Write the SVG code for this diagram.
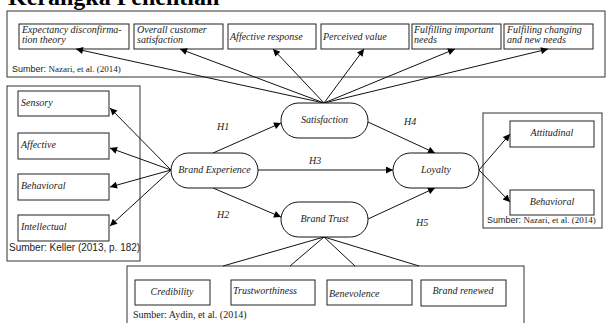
<svg xmlns="http://www.w3.org/2000/svg" width="608" height="323" viewBox="0 0 608 323">
<style>
.frame{fill:#fff;stroke:#333;stroke-width:1}
.box{fill:#fff;stroke:#222;stroke-width:1}
.pill{fill:#fff;stroke:#111;stroke-width:1}
.t{font-family:"Liberation Serif",serif;font-style:italic;font-size:10px;fill:#222}
.s{font-family:"Liberation Sans",sans-serif;font-size:10px;fill:#222}
.sr{font-family:"Liberation Serif",serif;font-size:10px;fill:#222}
.src{font-size:9px}
.c{stroke:#111;stroke-width:1;fill:none}
.a{marker-end:url(#ah)}
.title{font-family:"Liberation Serif",serif;font-weight:bold;font-size:24px;fill:#000}
</style>
<defs>
<marker id="ah" viewBox="0 0 10 10" refX="10" refY="5" markerWidth="9" markerHeight="7" markerUnits="userSpaceOnUse" orient="auto">
<path d="M0,0 L10,5 L0,10 z" fill="#000"/>
</marker>
</defs>
<rect width="608" height="323" fill="#fff"/>
<text class="title" x="8" y="5">Kerangka Penelitian</text>

<g id="satisfaction-group">
<rect class="frame" x="7" y="11" width="598" height="66"/>
<g id="n-edt"><rect class="box" x="19" y="24" width="110" height="25"/><text class="t" x="22" y="33">Expectancy disconfirma-</text><text class="t" x="22" y="43">tion theory</text></g>
<g id="n-ocs"><rect class="box" x="134" y="24" width="89" height="25"/><text class="t" x="137" y="33">Overall customer</text><text class="t" x="137" y="43">satisfaction</text></g>
<g id="n-ar"><rect class="box" x="228" y="24" width="88" height="25"/><text class="t" x="230" y="40">Affective response</text></g>
<g id="n-pv"><rect class="box" x="321" y="24" width="88" height="25"/><text class="t" x="323" y="40">Perceived value</text></g>
<g id="n-fin"><rect class="box" x="412" y="24" width="89" height="25"/><text class="t" x="414" y="33">Fulfilling important</text><text class="t" x="414" y="43">needs</text></g>
<g id="n-fcn"><rect class="box" x="504" y="24" width="89" height="25"/><text class="t" x="507" y="33">Fulfiling changing</text><text class="t" x="507" y="43">and new needs</text></g>
<text class="src" x="12" y="72"><tspan class="s src">Sumber: </tspan><tspan class="sr src">Nazari, et al. (2014)</tspan></text>
</g>

<g id="experience-group">
<rect class="frame" x="7" y="86" width="133" height="175"/>
<g id="n-sensory"><rect class="box" x="18" y="91" width="91" height="25"/><text class="t" x="21" y="106">Sensory</text></g>
<g id="n-affective"><rect class="box" x="18" y="133" width="91" height="26"/><text class="t" x="21" y="148">Affective</text></g>
<g id="n-behavioral1"><rect class="box" x="18" y="174" width="91" height="26"/><text class="t" x="21" y="189">Behavioral</text></g>
<g id="n-intellectual"><rect class="box" x="18" y="215" width="91" height="26"/><text class="t" x="21" y="230">Intellectual</text></g>
<text class="s" x="9" y="251">Sumber: Keller (2013, p. 182)</text>
</g>

<g id="loyalty-group">
<rect class="frame" x="483" y="113" width="119" height="115"/>
<g id="n-attitudinal"><rect class="box" x="510" y="121" width="84" height="26"/><text class="t" x="552" y="136" text-anchor="middle">Attitudinal</text></g>
<g id="n-behavioral2"><rect class="box" x="510" y="190" width="84" height="25"/><text class="t" x="552" y="205" text-anchor="middle">Behavioral</text></g>
<text class="src" x="487" y="223"><tspan class="s src">Sumber: </tspan><tspan class="sr src">Nazari, et al. (2014)</tspan></text>
</g>

<g id="trust-group">
<rect class="frame" x="127" y="266" width="397" height="62"/>
<g id="n-credibility"><rect class="box" x="135" y="280" width="75" height="25"/><text class="t" x="172" y="295" text-anchor="middle">Credibility</text></g>
<g id="n-trustworthiness"><rect class="box" x="231" y="280" width="84" height="25"/><text class="t" x="233" y="294">Trustworthiness</text></g>
<g id="n-benevolence"><rect class="box" x="327" y="280" width="85" height="25"/><text class="t" x="329" y="297">Benevolence</text></g>
<g id="n-renewed"><rect class="box" x="421" y="280" width="85" height="26"/><text class="t" x="463" y="294" text-anchor="middle">Brand renewed</text></g>
<text class="sr" x="133" y="318" font-size="8.7">Sumber: Aydin, et al. (2014)</text>
</g>

<g id="connectors">
<line class="c a" x1="324" y1="103" x2="76" y2="49"/>
<line class="c a" x1="324" y1="103" x2="180" y2="49"/>
<line class="c a" x1="324" y1="103" x2="273" y2="49"/>
<line class="c a" x1="324" y1="103" x2="364" y2="49"/>
<line class="c a" x1="324" y1="103" x2="455" y2="49"/>
<line class="c a" x1="324" y1="103" x2="548" y2="49"/>

<line class="c a" x1="171" y1="170" x2="110" y2="108"/>
<line class="c a" x1="171" y1="170" x2="110" y2="148"/>
<line class="c a" x1="171" y1="170" x2="110" y2="187"/>
<line class="c a" x1="171" y1="170" x2="110" y2="226"/>

<line class="c a" x1="213" y1="153" x2="281" y2="123"/>
<line class="c a" x1="213" y1="188" x2="281" y2="217"/>
<line class="c a" x1="258" y1="170" x2="393" y2="170"/>
<line class="c a" x1="368" y1="122" x2="435" y2="153"/>
<line class="c a" x1="368" y1="219" x2="435" y2="188"/>

<line class="c a" x1="479" y1="170" x2="510" y2="134"/>
<line class="c a" x1="479" y1="170" x2="510" y2="202"/>

<line class="c" x1="324" y1="237" x2="223" y2="266"/>
<line class="c" x1="324" y1="237" x2="290" y2="266"/>
<line class="c" x1="324" y1="237" x2="355" y2="266"/>
<line class="c" x1="324" y1="237" x2="419" y2="266"/>

<text class="t" x="217" y="130">H1</text>
<text class="t" x="217" y="218">H2</text>
<text class="t" x="309" y="164">H3</text>
<text class="t" x="404" y="125">H4</text>
<text class="t" x="416" y="226">H5</text>
</g>

<g id="n-brand-experience"><rect class="pill" x="171" y="153" width="87" height="35" rx="17.5"/><text class="t" x="214.5" y="173" text-anchor="middle">Brand Experience</text></g>
<g id="n-satisfaction"><rect class="pill" x="281" y="103" width="87" height="35" rx="17.5"/><text class="t" x="324.5" y="123" text-anchor="middle">Satisfaction</text></g>
<g id="n-brand-trust"><rect class="pill" x="281" y="202" width="87" height="35" rx="17.5"/><text class="t" x="324.5" y="222" text-anchor="middle">Brand Trust</text></g>
<g id="n-loyalty"><rect class="pill" x="393" y="153" width="86" height="35" rx="17.5"/><text class="t" x="436" y="173" text-anchor="middle">Loyalty</text></g>
</svg>
